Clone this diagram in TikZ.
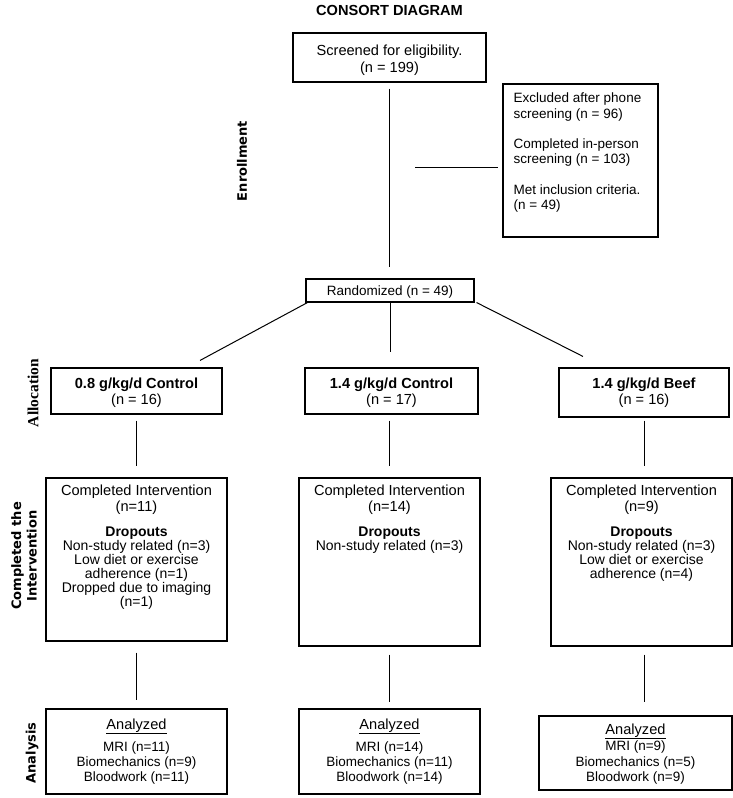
\documentclass[tikz,border=0pt]{standalone}
\usepackage{fontspec}
\setmainfont{Liberation Sans}
\newfontfamily\labfont{DejaVu Sans}
\newfontfamily\serfont{Liberation Serif}
\begin{document}
\begin{tikzpicture}[x=1pt,y=-1pt,
  box/.style={draw, line width=1.1pt, inner sep=0pt},
  conn/.style={line width=1pt},
  t/.style={inner sep=0pt, anchor=base, font=\fontsize{14.6}{16}\selectfont},
  ts/.style={inner sep=0pt, anchor=base, font=\fontsize{13.5}{15}\selectfont},
  tb/.style={inner sep=0pt, anchor=base, font=\fontsize{14.6}{16}\selectfont\bfseries},
  tsb/.style={inner sep=0pt, anchor=base, font=\fontsize{14}{15}\selectfont\bfseries},
  tm/.style={inner sep=0pt, anchor=base, font=\fontsize{14}{15}\selectfont},
  lab/.style={inner sep=0pt, rotate=90, align=center, font=\fontsize{13}{15.5}\labfont\bfseries},
  labser/.style={inner sep=0pt, rotate=90, font=\fontsize{15.5}{17}\serfont\bfseries}
]
\useasboundingbox (0,0) rectangle (733,798);

% title
\node[tb] (title) at (389.5,15) {CONSORT DIAGRAM};

% side labels
\node[lab] (lenr) at (242,161) {Enrollment};
\node[labser] (lall) at (33,393) {Allocation};
\node[lab] (lcomp) at (24,556) {Completed the\\Intervention};
\node[lab] (lana) at (32,753) {Analysis};

% enrollment
\node[box, minimum width=193pt, minimum height=49pt] (scr) at (389.5,57.5) {};
\node[t] (scr1) at (389.5,55) {Screened for eligibility.};
\node[t] (scr2) at (389.5,72) {(n = 199)};

\node[box, minimum width=155pt, minimum height=153pt] (excl) at (580.5,160.5) {};
\node[ts, anchor=base west] (ex1) at (513.5,102) {Excluded after phone};
\node[ts, anchor=base west] (ex2) at (513.5,118) {screening (n = 96)};
\node[ts, anchor=base west] (ex3) at (513.5,148) {Completed in-person};
\node[ts, anchor=base west] (ex4) at (513.5,163) {screening (n = 103)};
\node[ts, anchor=base west] (ex5) at (513.5,194) {Met inclusion criteria.};
\node[ts, anchor=base west] (ex6) at (513.5,209) {(n = 49)};

\node[box, minimum width=168pt, minimum height=23pt] (rand) at (390,290.5) {};
\node[ts] (rand1) at (390,295.5) {Randomized (n = 49)};

\coordinate (hl) at (415,167);
\draw[conn, shorten <=6pt, shorten >=11pt] (scr.south) -- (scr.south |- rand.north);
\draw[conn, shorten >=4pt] (hl) -- (hl -| excl.west);

% allocation
\node[box, minimum width=171pt, minimum height=46pt] (aL) at (136.5,391) {};
\node[box, minimum width=173pt, minimum height=46pt] (aM) at (391.5,391) {};
\node[box, minimum width=170pt, minimum height=49pt] (aR) at (644,392.5) {};
\node[tb] (aL1) at (136.5,388) {0.8 g/kg/d Control};
\node[t]  (aL2) at (136.5,404) {(n = 16)};
\node[tb] (aM1) at (391.5,388) {1.4 g/kg/d Control};
\node[t]  (aM2) at (391.5,404) {(n = 17)};
\node[tb] (aR1) at (644,388) {1.4 g/kg/d Beef};
\node[t]  (aR2) at (644,404) {(n = 16)};

\draw[conn] ([xshift=2pt]rand.south west) -- ([xshift=63.5pt,yshift=7pt]aL.north);
\draw[conn, shorten >=15pt] (rand.south) -- (rand.south |- aM.north);
\draw[conn] ([xshift=2pt]rand.south east) -- ([xshift=-61pt,yshift=11pt]aR.north);

% completed
\node[box, minimum width=181pt, minimum height=163pt] (cL) at (136.5,559.5) {};
\node[box, minimum width=181pt, minimum height=168pt] (cM) at (389.5,562) {};
\node[box, minimum width=181pt, minimum height=168pt] (cR) at (641.5,562) {};

\node[t]   (cL1) at (136.5,495) {Completed Intervention};
\node[t]   (cL2) at (136.5,511) {(n=11)};
\node[tsb] (cL3) at (136.5,536) {Dropouts};
\node[tm]  (cL4) at (136.5,550) {Non-study related (n=3)};
\node[tm]  (cL5) at (136.5,564) {Low diet or exercise};
\node[tm]  (cL6) at (136.5,578) {adherence (n=1)};
\node[tm]  (cL7) at (136.5,592) {Dropped due to imaging};
\node[tm]  (cL8) at (136.5,606) {(n=1)};

\node[t]   (cM1) at (389.5,495) {Completed Intervention};
\node[t]   (cM2) at (389.5,511) {(n=14)};
\node[tsb] (cM3) at (389.5,536) {Dropouts};
\node[tm]  (cM4) at (389.5,550) {Non-study related (n=3)};

\node[t]   (cR1) at (641.5,495) {Completed Intervention};
\node[t]   (cR2) at (641.5,511) {(n=9)};
\node[tsb] (cR3) at (641.5,536) {Dropouts};
\node[tm]  (cR4) at (641.5,550) {Non-study related (n=3)};
\node[tm]  (cR5) at (641.5,564) {Low diet or exercise};
\node[tm]  (cR6) at (641.5,578) {adherence (n=4)};

\draw[conn, shorten <=6pt, shorten >=11pt] (aL.south) -- (aL.south |- cL.north);
\draw[conn, shorten <=6pt, shorten >=11pt] (aM.south -| cM.north) -- (cM.north);
\draw[conn, shorten <=3pt, shorten >=11pt] (aR.south) -- (aR.south |- cR.north);

% analysis
\node[box, minimum width=181pt, minimum height=85pt] (nL) at (136.5,751.5) {};
\node[box, minimum width=181pt, minimum height=85pt] (nM) at (389.5,751.5) {};
\node[box, minimum width=193pt, minimum height=74pt] (nR) at (635.5,753) {};

\node[t]  (nL1) at (136.5,729) {\underline{Analyzed}};
\node[ts] (nL2) at (136.5,751) {MRI (n=11)};
\node[ts] (nL3) at (136.5,766) {Biomechanics (n=9)};
\node[ts] (nL4) at (136.5,781) {Bloodwork (n=11)};

\node[t]  (nM1) at (389.5,729) {\underline{Analyzed}};
\node[ts] (nM2) at (389.5,751) {MRI (n=14)};
\node[ts] (nM3) at (389.5,766) {Biomechanics (n=11)};
\node[ts] (nM4) at (389.5,781) {Bloodwork (n=14)};

\node[t]  (nR1) at (635.5,734) {\underline{Analyzed}};
\node[ts] (nR2) at (635.5,750) {MRI (n=9)};
\node[ts] (nR3) at (635.5,766) {Biomechanics (n=5)};
\node[ts] (nR4) at (635.5,781) {Bloodwork (n=9)};

\draw[conn, shorten <=11pt, shorten >=8pt] (cL.south) -- (cL.south |- nL.north);
\draw[conn, shorten <=8pt, shorten >=6pt] (cM.south) -- (cM.south |- nM.north);
\draw[conn, shorten <=8pt, shorten >=13pt] (cR.south -| aR.south) -- (aR.south |- nR.north);
\end{tikzpicture}
\end{document}
